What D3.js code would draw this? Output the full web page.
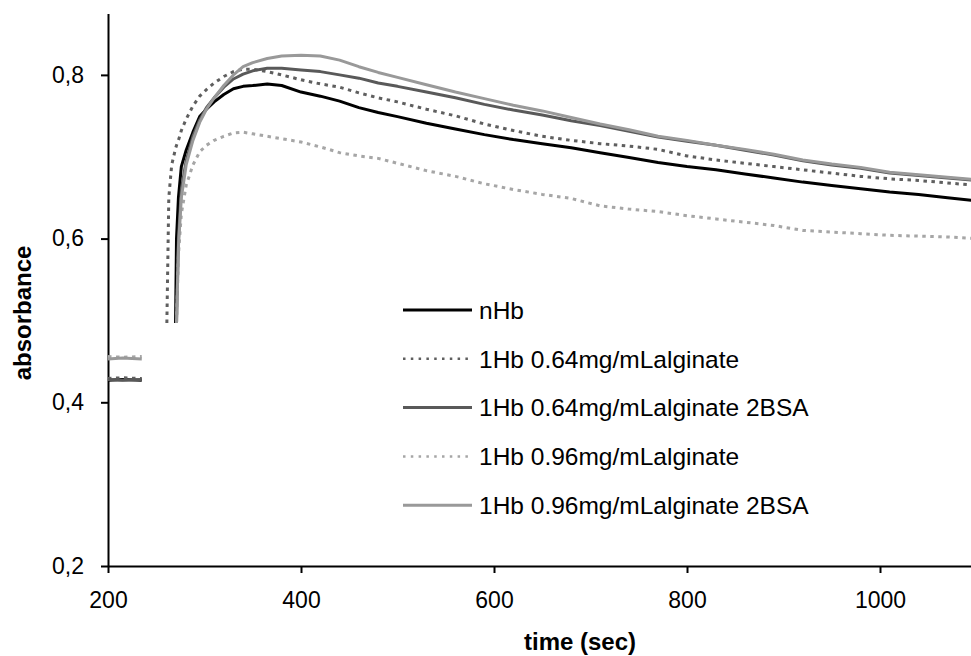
<!DOCTYPE html>
<html>
<head>
<meta charset="utf-8">
<script src="https://cdn.jsdelivr.net/npm/d3@7"></script>
<style>
  body { margin: 0; background: #fff; }
  svg { display: block; font-family: "Liberation Sans", Arial, sans-serif; }
</style>
</head>
<body>
<div id="chart"></div>
<script>
// time (sec); 248 is the gap between the baseline reading and the mixing
var times = [200, 215, 235, 248, 261, 263, 266, 270, 271, 273, 276, 281, 288, 295, 302, 310, 320, 330, 340, 350, 365, 380, 400, 420, 440, 460, 480, 500, 530, 560, 590, 620, 650, 680, 710, 740, 770, 800, 830, 860, 890, 920, 950, 980, 1010, 1040, 1070, 1100];

var seriesNames = ["nHb", "1Hb 0.64mg/mLalginate", "1Hb 0.64mg/mLalginate 2BSA", "1Hb 0.96mg/mLalginate", "1Hb 0.96mg/mLalginate 2BSA"];

var nHb = [0.427, 0.428, 0.427, null, null, null, null, 0.497, 0.60, 0.65, 0.688, 0.708, 0.73, 0.749, 0.758, 0.767, 0.776, 0.783, 0.786, 0.787, 0.789, 0.787, 0.779, 0.774, 0.768, 0.76, 0.754, 0.749, 0.741, 0.734, 0.727, 0.721, 0.716, 0.711, 0.705, 0.699, 0.693, 0.688, 0.684, 0.679, 0.674, 0.669, 0.665, 0.661, 0.657, 0.654, 0.65, 0.646];

var alg064 = [0.429, 0.43, 0.429, null, 0.497, 0.65, 0.69, 0.71, 0.714, 0.72, 0.732, 0.746, 0.762, 0.774, 0.782, 0.79, 0.798, 0.804, 0.807, 0.807, 0.804, 0.80, 0.794, 0.789, 0.785, 0.778, 0.772, 0.767, 0.758, 0.75, 0.74, 0.732, 0.725, 0.72, 0.716, 0.713, 0.709, 0.701, 0.696, 0.692, 0.688, 0.684, 0.68, 0.676, 0.673, 0.671, 0.668, 0.665];

var alg064bsa = [0.428, 0.427, 0.428, null, null, null, null, null, 0.497, 0.6, 0.66, 0.695, 0.725, 0.745, 0.76, 0.772, 0.785, 0.795, 0.801, 0.805, 0.808, 0.808, 0.806, 0.804, 0.8, 0.796, 0.79, 0.786, 0.779, 0.772, 0.764, 0.757, 0.751, 0.744, 0.738, 0.731, 0.724, 0.719, 0.714, 0.708, 0.702, 0.695, 0.69, 0.686, 0.68, 0.677, 0.674, 0.671];

var alg096 = [0.456, 0.455, 0.456, null, null, null, null, null, 0.497, 0.58, 0.63, 0.665, 0.69, 0.706, 0.714, 0.72, 0.725, 0.729, 0.73, 0.728, 0.725, 0.722, 0.718, 0.712, 0.705, 0.701, 0.698, 0.692, 0.683, 0.676, 0.667, 0.66, 0.654, 0.649, 0.64, 0.636, 0.633, 0.628, 0.624, 0.62, 0.616, 0.61, 0.608, 0.606, 0.604, 0.603, 0.602, 0.6];

var alg096bsa = [0.453, 0.454, 0.453, null, null, null, null, null, 0.497, 0.59, 0.65, 0.69, 0.72, 0.742, 0.758, 0.772, 0.787, 0.80, 0.81, 0.815, 0.82, 0.823, 0.824, 0.823, 0.818, 0.81, 0.803, 0.797, 0.788, 0.779, 0.771, 0.763, 0.756, 0.748, 0.74, 0.733, 0.725, 0.72, 0.714, 0.709, 0.703, 0.696, 0.691, 0.687, 0.681, 0.678, 0.675, 0.672];

var xTicks = [200, 400, 600, 800, 1000];
var yTicks = [0.2, 0.4, 0.6, 0.8];

// line styles, same order as seriesNames
var colors = ["#000000", "#5f5f5f", "#595959", "#a6a6a6", "#999999"];
var dashes = [null, "3.5,4.5", null, "3.5,4.5", null];

var W = 971, H = 656;
var svg = d3.select("#chart").append("svg")
  .attr("width", W)
  .attr("height", H);

var x = d3.scaleLinear().domain([200, 1200]).range([108, 1073]);
var y = d3.scaleLinear().domain([0.2, 0.875]).range([566, 13.5]);

var allSeries = [nHb, alg064, alg064bsa, alg096, alg096bsa];
var lineData = allSeries.map(function(vals, i) {
  return {
    name: seriesNames[i],
    values: times.map(function(t, j) { return {t: t, v: vals[j]}; })
  };
});

var line = d3.line()
  .defined(d => d.v != null)
  .x(d => x(d.t))
  .y(d => y(d.v));

// axes
var fmt = d => d3.format(".1f")(d).replace(".", ",");

svg.append("g")
  .attr("transform", "translate(108,0)")
  .call(d3.axisLeft(y).tickValues(yTicks).tickFormat(fmt).tickSize(7).tickSizeOuter(0).tickPadding(17));

svg.append("g")
  .attr("transform", "translate(0,566)")
  .call(d3.axisBottom(x).tickValues(xTicks).tickFormat(d3.format("d")).tickSize(7).tickSizeOuter(0).tickPadding(19));

svg.selectAll(".domain").attr("stroke", "#000").attr("stroke-width", 2);
svg.selectAll(".tick line").attr("stroke", "#000").attr("stroke-width", 2);
svg.selectAll(".tick text")
  .attr("font-size", "23px")
  .attr("font-family", "Liberation Sans, Arial, sans-serif")
  .attr("fill", "#000");

// lines
svg.selectAll(".series")
  .data(lineData)
  .enter()
  .append("path")
  .attr("class", "series")
  .attr("d", d => line(d.values))
  .attr("fill", "none")
  .attr("stroke", (d, i) => colors[i])
  .attr("stroke-width", 3)
  .attr("stroke-dasharray", (d, i) => dashes[i])
  .attr("stroke-linejoin", "round");

// axis titles
svg.append("text")
  .attr("x", 580)
  .attr("y", 650)
  .attr("text-anchor", "middle")
  .attr("font-size", "24px")
  .attr("font-weight", "bold")
  .text("time (sec)");

svg.append("text")
  .attr("transform", "translate(31,313) rotate(-90)")
  .attr("text-anchor", "middle")
  .attr("font-size", "24px")
  .attr("font-weight", "bold")
  .text("absorbance");

// legend
var legend = svg.selectAll(".legend")
  .data(seriesNames)
  .enter()
  .append("g")
  .attr("class", "legend")
  .attr("transform", (d, i) => "translate(403," + (310 + i * 48.8) + ")");

legend.append("line")
  .attr("x1", 0)
  .attr("x2", 69)
  .attr("stroke", (d, i) => colors[i])
  .attr("stroke-width", (d, i) => dashes[i] ? 2.5 : 3)
  .attr("stroke-dasharray", (d, i) => dashes[i] ? "2.5,5.3" : null);

legend.append("text")
  .attr("x", 76)
  .attr("dy", "0.36em")
  .attr("font-size", "24.5px")
  .text(d => d);
</script>
</body>
</html>
